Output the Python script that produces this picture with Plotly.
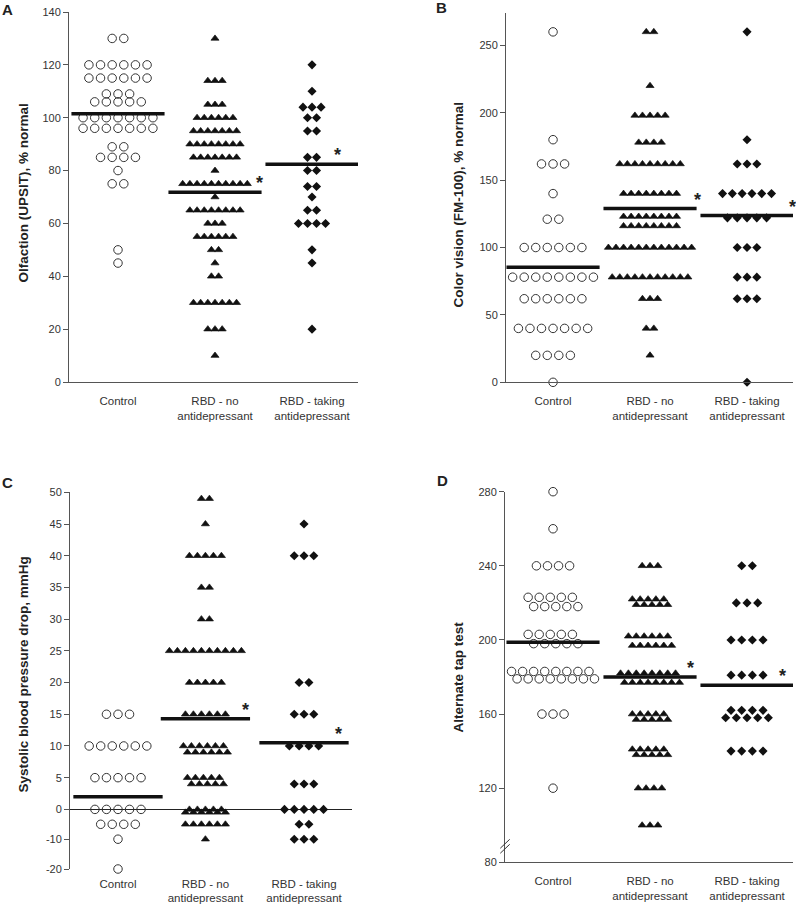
import plotly.graph_objects as go
from collections import Counter

W, H = 796, 908

categories = ["Control", "RBD - no antidepressant", "RBD - taking antidepressant"]
category_ticktext = ["Control", "RBD - no<br>antidepressant", "RBD - taking<br>antidepressant"]

# ---------------- Panel A: Olfaction (UPSIT), % normal ----------------
A_control = [130, 130,
             120, 120, 120, 120, 120, 120,
             115, 115, 115, 115, 115, 115,
             109, 109, 109,
             106, 106, 106, 106, 106,
             100, 100, 100, 100, 100, 100, 100,
             96, 96, 96, 96, 96, 96, 96,
             89, 89,
             85, 85, 85, 85,
             80,
             75, 75,
             50,
             45]
A_nodep = [130,
           114, 114, 114,
           105, 105, 105,
           100, 100, 100, 100, 100, 100,
           95, 95, 95, 95, 95, 95, 95,
           90, 90, 90, 90, 90, 90, 90, 90,
           85, 85, 85, 85, 85, 85, 85,
           80,
           75, 75, 75, 75, 75, 75, 75, 75, 75, 75,
           70,
           65, 65, 65, 65, 65, 65, 65, 65,
           60, 60, 60,
           55, 55, 55, 55, 55, 55,
           50, 50,
           45,
           40, 40,
           30, 30, 30, 30, 30, 30, 30,
           20, 20, 20,
           10]
A_dep = [120, 110, 104, 104, 104, 100, 100, 95, 95, 85, 85, 80, 80,
         74, 74, 70, 65, 65, 60, 60, 60, 60, 50, 45, 20]
A_mean = [101.5, 71.8, 82.4]

# ---------------- Panel B: Color vision (FM-100), % normal ----------------
B_control = [260, 180, 162, 162, 162, 140, 121, 121,
             100, 100, 100, 100, 100, 100,
             78, 78, 78, 78, 78, 78, 78, 78,
             62, 62, 62, 62, 62, 62,
             40, 40, 40, 40, 40, 40, 40,
             20, 20, 20, 20,
             0]
B_nodep = [260, 260, 220,
           198, 198, 198, 198, 198,
           178, 178, 178, 178,
           162, 162, 162, 162, 162, 162, 162, 162, 162,
           140, 140, 140, 140, 140, 140, 140, 140,
           123, 123, 123, 123, 123, 123, 123, 123,
           116, 116, 116, 116, 116, 116, 116, 116,
           100, 100, 100, 100, 100, 100, 100, 100, 100, 100, 100, 100,
           78, 78, 78, 78, 78, 78, 78, 78, 78, 78, 78,
           62, 62, 62,
           40, 40,
           20]
B_dep = [260, 180, 162, 162, 162,
         140, 140, 140, 140, 140, 140,
         122, 122, 122, 122, 122,
         100, 100, 100, 78, 78, 78, 62, 62, 62, 0]
B_mean = [85.4, 128.9, 123.7]

# ---------------- Panel C: Systolic blood pressure drop, mmHg ----------------
C_control = [15, 15, 15,
             10, 10, 10, 10, 10, 10,
             5, 5, 5, 5, 5,
             0, 0, 0, 0, 0,
             -5, -5, -5, -5,
             -10, -20]
C_nodep = [49, 49, 45,
           40, 40, 40, 40, 40,
           35, 35, 30, 30,
           25, 25, 25, 25, 25, 25, 25, 25, 25, 25,
           20, 20, 20, 20, 20,
           15, 15, 15, 15, 15, 15,
           10, 10, 10, 10, 10, 10,
           9, 9, 9, 9, 9, 9,
           5, 5, 5, 5, 5,
           4, 4, 4, 4, 4,
           0, 0, 0, 0, 0,
           -1, -1, -1, -1, -1, -1,
           -5, -5, -5, -5, -5, -5,
           -10]
C_dep = [45, 40, 40, 40, 20, 20, 15, 15, 15, 10, 10, 10, 10,
         4, 4, 4, 0, 0, 0, 0, 0, -5, -5, -10, -10, -10]
C_mean = [2.0, 14.3, 10.5]
C_ticks = [-20, -10, 0, 5, 10, 15, 20, 25, 30, 35, 40, 45, 50]

# ---------------- Panel D: Alternate tap test ----------------
D_control = [280, 260,
             240, 240, 240, 240,
             223, 223, 223, 223, 223,
             218, 218, 218, 218, 218,
             203, 203, 203, 203, 203,
             198, 198, 198, 198, 198,
             183, 183, 183, 183, 183, 183, 183, 183,
             179, 179, 179, 179, 179, 179, 179, 179,
             160, 160, 160,
             120]
D_nodep = [240, 240, 240,
           222, 222, 222, 222, 222,
           219, 219, 219, 219, 219,
           202, 202, 202, 202, 202, 202,
           197, 197, 197, 197, 197, 197,
           182, 182, 182, 182, 182, 182, 182, 182,
           177, 177, 177, 177, 177, 177, 177, 177,
           160, 160, 160, 160, 160,
           157, 157, 157, 157, 157,
           141, 141, 141, 141, 141,
           138, 138, 138, 138, 138,
           120, 120, 120, 120,
           100, 100, 100]
D_dep = [240, 240, 220, 220, 220, 200, 200, 200, 200,
         181, 181, 181, 181, 162, 162, 162, 162,
         158, 158, 158, 158, 158, 140, 140, 140, 140]
D_mean = [198.7, 180.0, 175.6]

# ---------------- helpers ----------------
NEG_K = 0.47  # panel C draws negative values on a compressed scale


def c_disp(v):
    return v if v >= 0 else v * NEG_K


def swarm(values, center, spacing, close, tf=lambda v: v):
    rows = sorted(Counter(values).items(), key=lambda t: -t[0])
    shifts = [0.0] * len(rows)
    for i in range(1, len(rows)):
        pv, pn = rows[i - 1]
        v, n = rows[i]
        if (abs(tf(pv) - tf(v)) < close and (pn - n) % 2 == 0 and shifts[i - 1] == 0):
            shifts[i - 1] = -spacing / 4
            shifts[i] = spacing / 4
    xs, ys = [], []
    for (v, n), s in zip(rows, shifts):
        for k in range(n):
            xs.append(center + (k - (n - 1) / 2) * spacing + s)
            ys.append(tf(v))
    return xs, ys


def px(x):
    return x / W


def py(y):
    return 1 - y / H


TXT = "#333333"
FONT = "Liberation Sans, Arial, sans-serif"

panels = [
    dict(name="A", data=[A_control, A_nodep, A_dep], mean=A_mean,
         pos=[0, 1, 2], xr=[-0.505, 2.474], yr=[0, 140],
         xdom=[px(69), px(358)], ydom=[py(382), py(12)],
         sp=[0.12, 0.074, 0.093], close=0, tf=lambda v: v,
         ast_dx=[None, 0.46, 0.26], title="Olfaction (UPSIT), % normal",
         title_xy=(22.5, 193), letter_xy=(7, 10), standoff=8,
         tickvals=list(range(0, 141, 20)), ticktext=None),
    dict(name="B", data=[B_control, B_nodep, B_dep], mean=B_mean,
         pos=[0, 1, 2], xr=[-0.485, 2.474], yr=[0, 274],
         xdom=[px(506), px(793)], ydom=[py(382.3), py(13)],
         sp=[0.119, 0.078, 0.101], close=0, tf=lambda v: v,
         ast_dx=[None, 0.49, 0.47], title="Color vision (FM-100), % normal",
         title_xy=(457.5, 205), letter_xy=(441, 8), standoff=8,
         tickvals=list(range(0, 251, 50)), ticktext=None),
    dict(name="C", data=[C_control, C_nodep, C_dep], mean=C_mean,
         pos=[0, 0.94, 2], xr=[-0.516, 2.516], yr=[c_disp(-20), 50],
         xdom=[px(70), px(352)], ydom=[py(869), py(492.3)],
         sp=[0.124, 0.086, 0.105], close=1.5, tf=c_disp,
         ast_dx=[None, 0.43, 0.37], title="Systolic blood pressure drop, mmHg",
         title_xy=(22.5, 675), letter_xy=(7, 482), standoff=6,
         tickvals=[c_disp(t) for t in C_ticks], ticktext=[str(t) for t in C_ticks]),
    dict(name="D", data=[D_control, D_nodep, D_dep], mean=D_mean,
         pos=[0, 1, 2], xr=[-0.495, 2.474], yr=[80, 280],
         xdom=[px(505), px(793)], ydom=[py(862.3), py(491.7)],
         sp=[0.114, 0.081, 0.11], close=6, tf=lambda v: v,
         ast_dx=[None, 0.42, 0.37], title="Alternate tap test",
         title_xy=(457.5, 677), letter_xy=(442, 481), standoff=8,
         tickvals=list(range(80, 281, 40)), ticktext=None),
]

markers = [
    dict(symbol="circle-open", size=8.5, color="#333333", line=dict(width=1, color="#333333")),
    dict(symbol="triangle-up", size=7, color="#111111", line=dict(width=0.7, color="#111111")),
    dict(symbol="diamond", size=7, color="#111111", line=dict(width=0)),
]

fig = go.Figure()
annotations = []
shapes = []

for idx, p in enumerate(panels):
    n = idx + 1
    xa = "x" if n == 1 else f"x{n}"
    ya = "y" if n == 1 else f"y{n}"
    tf = p["tf"]
    for g in range(3):
        xs, ys = swarm(p["data"][g], p["pos"][g], p["sp"][g], p["close"], tf)
        fig.add_trace(go.Scatter(x=xs, y=ys, mode="markers", marker=markers[g],
                                 xaxis=xa, yaxis=ya, showlegend=False,
                                 name=categories[g], cliponaxis=False))
    # mean lines
    lx, ly = [], []
    for g in range(3):
        c = p["pos"][g]
        lo = max(c - 0.48, p["xr"][0])
        hi = min(c + 0.48, p["xr"][1])
        lx += [lo, hi, None]
        ly += [tf(p["mean"][g]), tf(p["mean"][g]), None]
    fig.add_trace(go.Scatter(x=lx, y=ly, mode="lines", line=dict(color="#111111", width=3.5),
                             xaxis=xa, yaxis=ya, showlegend=False, hoverinfo="skip",
                             cliponaxis=False))
    # asterisks
    for g in range(3):
        if p["ast_dx"][g] is None:
            continue
        annotations.append(dict(x=p["pos"][g] + p["ast_dx"][g], y=tf(p["mean"][g]),
                                xref=xa, yref=ya, text="<b>*</b>", showarrow=False,
                                yshift=9, font=dict(size=18, color="#222222", family=FONT)))
    # y titles
    tx, ty = p["title_xy"]
    annotations.append(dict(x=px(tx), y=py(ty), xref="paper", yref="paper",
                            text="<b>" + p["title"] + "</b>", textangle=-90,
                            showarrow=False, xanchor="center", yanchor="middle",
                            font=dict(size=13.5, color="#222222", family=FONT)))
    lx_, ly_ = p["letter_xy"]
    annotations.append(dict(x=px(lx_), y=py(ly_), xref="paper", yref="paper",
                            text="<b>" + p["name"] + "</b>", showarrow=False,
                            xanchor="center", yanchor="middle",
                            font=dict(size=15, color="#222222", family=FONT)))

    xaxis = dict(domain=p["xdom"], range=p["xr"], anchor=ya, automargin=False,
                 tickmode="array", tickvals=p["pos"], ticktext=category_ticktext,
                 ticks="", showgrid=False, zeroline=False,
                 showline=(p["name"] != "C"), linecolor="#555555", linewidth=1,
                 tickfont=dict(size=11.5, color=TXT, family=FONT),
                 ticklabelstandoff=p["standoff"], fixedrange=True)
    yaxis = dict(domain=p["ydom"], range=p["yr"], anchor=xa, automargin=False,
                 tickmode="array", tickvals=p["tickvals"],
                 ticks="outside", ticklen=5, tickcolor="#555555", tickwidth=1,
                 showgrid=False, showline=True, linecolor="#555555", linewidth=1,
                 zeroline=(p["name"] == "C"), zerolinecolor="#222222", zerolinewidth=1,
                 tickfont=dict(size=11, color=TXT, family=FONT), fixedrange=True)
    if p["ticktext"] is not None:
        yaxis["ticktext"] = p["ticktext"]
    key = "" if n == 1 else str(n)
    fig.update_layout(**{f"xaxis{key}": xaxis, f"yaxis{key}": yaxis})

# axis break marks on panel D's y axis
for yc in [90.0, 87.3]:
    shapes.append(dict(type="line", xref="paper", yref="y4",
                       x0=px(500.3), x1=px(509.7), y0=yc - 2.4, y1=yc + 2.4,
                       line=dict(color="#333333", width=1)))

fig.update_layout(width=W, height=H, margin=dict(l=0, r=0, t=0, b=0, autoexpand=False),
                  paper_bgcolor="white", plot_bgcolor="white",
                  annotations=annotations, shapes=shapes, showlegend=False,
                  font=dict(family=FONT, color=TXT))

fig.write_html("out.html",
               config={"displayModeBar": False, "staticPlot": True},
               post_script="document.body.style.margin='0';document.body.style.overflow='hidden';")
